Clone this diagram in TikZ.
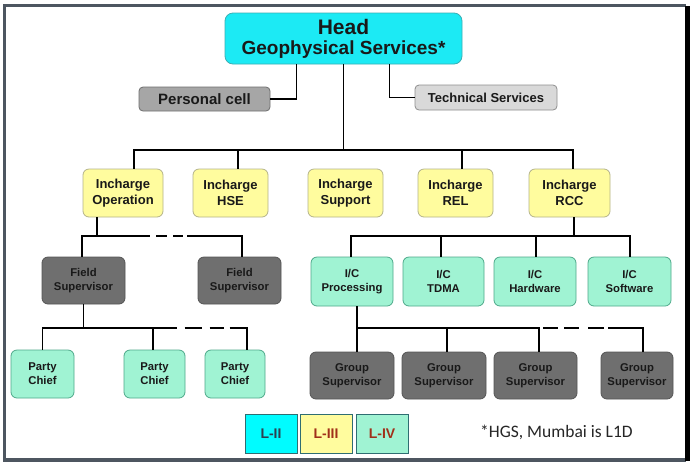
\documentclass[tikz,border=0pt]{standalone}
\usepackage{fontspec}
\setmainfont{Liberation Sans}
\newfontfamily\notefont{Carlito}
\usetikzlibrary{calc}
\definecolor{framec}{HTML}{4D5660}
\definecolor{cyanf}{HTML}{1CEAF4}
\definecolor{cyanb}{HTML}{3AAFB5}
\definecolor{legcyan}{HTML}{00FCFF}
\definecolor{pcf}{HTML}{A6A6A6}
\definecolor{pcb}{HTML}{6E6E6E}
\definecolor{tsf}{HTML}{D9D9D9}
\definecolor{tsb}{HTML}{8E8E8E}
\definecolor{yelf}{HTML}{FFFC9E}
\definecolor{yelb}{HTML}{B4B48A}
\definecolor{grf}{HTML}{6F6F6F}
\definecolor{grb}{HTML}{555555}
\definecolor{tlf}{HTML}{A0F3D3}
\definecolor{tlb}{HTML}{4EA98A}
\definecolor{legb}{HTML}{2F6E72}
\definecolor{legdark}{HTML}{2F3F4F}
\definecolor{legred}{HTML}{A0301A}
\tikzset{
  box/.style={draw, rounded corners=6pt, line width=0.8pt, align=center, inner sep=0pt, text=black!90},
  headbox/.style={box, fill=cyanf, draw=cyanb, rounded corners=8pt, minimum width=237pt, minimum height=51pt},
  yelbox/.style={box, fill=yelf, draw=yelb, minimum height=48pt, font=\fontsize{13}{15.5}\selectfont\bfseries},
  grbox/.style={box, fill=grf, draw=grb, font=\fontsize{11.3}{14}\selectfont\bfseries},
  tlbox/.style={box, fill=tlf, draw=tlb, font=\fontsize{11.3}{14}\selectfont\bfseries},
  legbox/.style={draw=legb, line width=0.8pt, minimum width=52pt, minimum height=39pt, inner sep=0pt, font=\fontsize{14}{16}\selectfont\bfseries},
  conn/.style={line width=1.8pt, black}
}
\begin{document}
\begin{tikzpicture}[x=1pt,y=-1pt]
\useasboundingbox (0,0) rectangle (690,467);
\fill[white] (0,0) rectangle (690,467);
% frame
\fill[framec] (3,4) rectangle (686,7);
\fill[framec] (3,4) rectangle (6,462);
\fill[framec] (3,458) rectangle (686,462);
\fill[black] (685,6) rectangle (690,461);

% level 1
\node[headbox] (head) at (343.5,38.5) {{\fontsize{21}{21}\selectfont\bfseries Head}\\[5pt]{\fontsize{19}{20}\selectfont\bfseries Geophysical Services*}};
\node[box, fill=pcf, draw=pcb, rounded corners=4pt, minimum width=131pt, minimum height=24pt, font=\fontsize{15}{17}\selectfont\bfseries] (pcell) at (204.5,99) {Personal cell};
\node[box, fill=tsf, draw=tsb, rounded corners=4pt, minimum width=142pt, minimum height=25pt, font=\fontsize{13}{15}\selectfont\bfseries] (tech) at (486,97.5) {Technical Services};

% level 2
\node[yelbox, minimum width=80pt] (op) at (123,193) {Incharge\\Operation};
\node[yelbox, minimum width=75pt] (hse) at (230.5,193) {Incharge\\HSE};
\node[yelbox, minimum width=75pt] (sup) at (345.5,193) {Incharge\\Support};
\node[yelbox, minimum width=75pt] (rel) at (455.5,193) {Incharge\\REL};
\node[yelbox, minimum width=81pt] (rcc) at (569.5,193) {Incharge\\RCC};

% level 3
\node[grbox, minimum width=83pt, minimum height=47pt] (fs1) at (83.5,280.5) {Field\\Supervisor};
\node[grbox, minimum width=83pt, minimum height=47pt] (fs2) at (239.5,280.5) {Field\\Supervisor};
\node[tlbox, minimum width=82pt, minimum height=49pt] (icp) at (352,281.5) {I/C\\Processing};
\node[tlbox, minimum width=81pt, minimum height=49pt] (ict) at (443.5,281.5) {I/C\\TDMA};
\node[tlbox, minimum width=82pt, minimum height=49pt] (ich) at (535,281.5) {I/C\\Hardware};
\node[tlbox, minimum width=83pt, minimum height=49pt] (ics) at (629.5,281.5) {I/C\\Software};

% level 4
\node[tlbox, minimum width=63pt, minimum height=48pt] (pc1) at (42.5,374) {Party\\Chief};
\node[tlbox, minimum width=61pt, minimum height=48pt] (pc2) at (154.5,374) {Party\\Chief};
\node[tlbox, minimum width=60pt, minimum height=48pt] (pc3) at (235,374) {Party\\Chief};
\node[grbox, minimum width=84pt, minimum height=47pt] (gs1) at (352,375.5) {Group\\Supervisor};
\node[grbox, minimum width=84pt, minimum height=47pt] (gs2) at (444,375.5) {Group\\Supervisor};
\node[grbox, minimum width=83pt, minimum height=47pt] (gs3) at (535.5,375.5) {Group\\Supervisor};
\node[grbox, minimum width=72pt, minimum height=47pt] (gs4) at (637,375.5) {Group\\Supervisor};

% legend
\node[legbox, fill=legcyan, text=legdark] (l2) at (271,433.5) {L-II};
\node[legbox, fill=yelf, text=legred] (l3) at (326,433.5) {L-III};
\node[legbox, fill=tlf, text=legred] (l4) at (382,433.5) {L-IV};
\node[anchor=west, inner sep=0pt, font=\notefont\fontsize{17.5}{20}\selectfont, text=black!85] (note) at (480,432) {*HGS, Mumbai is L1D};

% connectors level 1
\draw[conn] ([xshift=-47pt]head.south) |- (pcell.east);
\draw[conn] ([xshift=46pt]head.south) |- (tech.west);
\coordinate (bar1) at ([xshift=11pt,yshift=19pt]op.north);
\draw[conn] (head.south) -- (head.south |- bar1);
\draw[conn] ([xshift=11pt]op.north) -- (bar1) -| ([xshift=3.5pt]rcc.north);
\draw[conn] ([xshift=7.5pt]hse.north) -- ++(0,-19);
\draw[conn] ([xshift=6.5pt]rel.north) -- ++(0,-19);

% operation -> field supervisors
\coordinate (opd) at ([xshift=-26pt]op.south);
\coordinate (fsa) at ([xshift=-1.5pt,yshift=21pt]fs1.north);
\coordinate (fsb) at ([xshift=2.5pt,yshift=21pt]fs2.north);
\draw[conn] (opd) -- (opd |- fsa);
\draw[conn] ([xshift=-1.5pt]fs1.north) -- (fsa) -- ++(68,0);
\draw[conn] ($(fsa)+(74,0)$) -- ++(11,0);
\draw[conn] ($(fsa)+(91,0)$) -- ++(10,0);
\draw[conn] ($(fsa)+(105,0)$) -- (fsb) -- ([xshift=2.5pt]fs2.north);

% RCC -> I/C
\coordinate (rcd) at ([xshift=4.5pt]rcc.south);
\coordinate (ica) at ([xshift=-1pt,yshift=21pt]icp.north);
\draw[conn] (rcd) -- (rcd |- ica);
\draw[conn] ([xshift=-1pt]icp.north) -- (ica) -| ([xshift=0.5pt]ics.north);
\draw[conn] ([xshift=-2.5pt]ict.north) -- ++(0,-21);
\draw[conn] ([xshift=1pt]ich.north) -- ++(0,-21);

% field supervisor -> party chiefs
\coordinate (pca) at ([yshift=22pt]pc1.north);
\coordinate (pcb) at ([xshift=12pt,yshift=22pt]pc3.north);
\draw[conn] (fs1.south) -- (fs1.south |- pca);
\draw[conn] (pc1.north) -- (pca) -- ++(134,0);
\draw[conn] ([xshift=-1.5pt]pc2.north) -- ++(0,-22);
\draw[conn] ($(pca)+(142,0)$) -- ++(17,0);
\draw[conn] ($(pca)+(167,0)$) -- ++(14,0);
\draw[conn] ($(pca)+(187,0)$) -- (pcb) -- ([xshift=12pt]pc3.north);

% I/C processing -> group supervisors
\coordinate (gsa) at ([xshift=5pt,yshift=24pt]gs1.north);
\coordinate (gsb) at ([xshift=6pt,yshift=24pt]gs4.north);
\draw[conn] ([xshift=5pt]icp.south) -- (gsa);
\draw[conn] ([xshift=5pt]gs1.north) -- (gsa) -- ++(183,0);
\draw[conn] ([xshift=3pt]gs2.north) -- ++(0,-24);
\draw[conn] ([xshift=3.5pt]gs3.north) -- ++(0,-24);
\draw[conn] ($(gsa)+(186,0)$) -- ++(15,0);
\draw[conn] ($(gsa)+(207,0)$) -- ++(15,0);
\draw[conn] ($(gsa)+(231,0)$) -- ++(16,0);
\draw[conn] ($(gsa)+(251,0)$) -- (gsb) -- ([xshift=6pt]gs4.north);
\end{tikzpicture}
\end{document}
